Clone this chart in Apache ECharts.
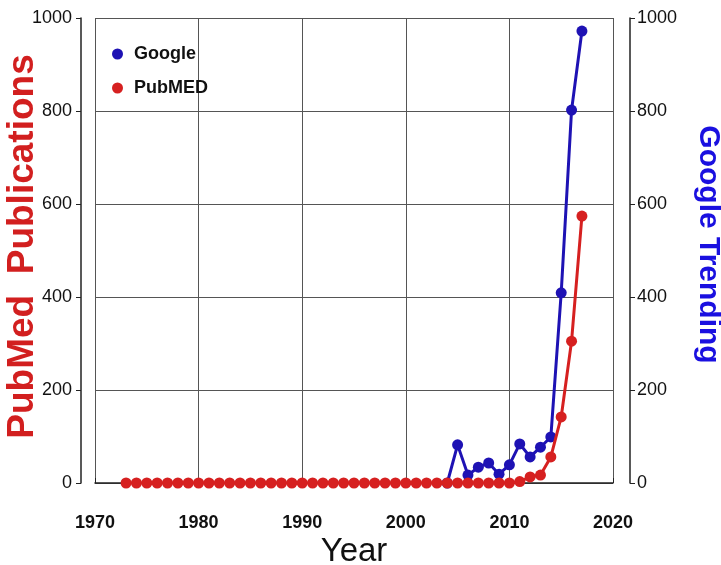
<!DOCTYPE html>
<html><head><meta charset="utf-8">
<script src="https://cdn.jsdelivr.net/npm/echarts@6/dist/echarts.min.js"></script>
<style>html,body{margin:0;padding:0;background:#fff}#c{width:721px;height:565px}</style>
</head><body><div id="c"></div>
<script>
const pubmedYears = [1973,1974,1975,1976,1977,1978,1979,1980,1981,1982,1983,1984,1985,1986,1987,1988,1989,1990,1991,1992,1993,1994,1995,1996,1997,1998,1999,2000,2001,2002,2003,2004,2005,2006,2007,2008,2009,2010,2011,2012,2013,2014,2015,2016,2017];
const pubmedValues = [0,0,0,0,0,0,0,0,0,0,0,0,0,0,0,0,0,0,0,0,0,0,0,0,0,0,0,0,0,0,0,0,0,0,0,0,0,0,3,13,17,56,142,305,574];
const googleYears = [2004,2005,2006,2007,2008,2009,2010,2011,2012,2013,2014,2015,2016,2017];
const googleValues = [0,82,17,34,43,19,39,84,56,77,99,409,802,972];
const xTicks = [1970,1980,1990,2000,2010,2020];
const yTicks = [0,200,400,600,800,1000];

const chart = echarts.init(document.getElementById('c'));
const font = 'Liberation Sans, Arial, sans-serif';
const grid = '#555';
const plain = v => String(v);
chart.setOption({
  backgroundColor: '#fff',
  animation: false,
  grid: {left: 95, right: 108, top: 18, bottom: 82, containLabel: false, outerBoundsMode: 'none'},
  legend: {
    orient: 'vertical', left: 107, top: 40, itemGap: 16,
    itemWidth: 15, itemHeight: 11,
    textStyle: {fontFamily: font, fontWeight: 'bold', fontSize: 18, color: '#111', padding: [0,0,0,4]},
    data: [{name: 'Google', icon: 'circle'}, {name: 'PubMED', icon: 'circle'}]
  },
  xAxis: {
    type: 'value', min: xTicks[0], max: xTicks[xTicks.length-1], interval: 10,
    offset: 16,
    name: 'Year', nameLocation: 'middle', nameGap: 36, nameMoveOverlap: false,
    nameTextStyle: {fontFamily: font, fontSize: 33, color: '#111'},
    axisLine: {lineStyle: {color: '#222', width: 1.5}},
    axisTick: {inside: true, length: 5, lineStyle: {color: '#222'}},
    axisLabel: {fontFamily: font, fontWeight: 'bold', fontSize: 18, color: '#111', margin: 15, formatter: plain},
    splitLine: {show: true, lineStyle: {color: grid, width: 1}}
  },
  yAxis: [{
    type: 'value', min: 0, max: 1000, interval: 200, position: 'left', offset: 14,
    name: 'PubMed  Publications', nameLocation: 'middle', nameGap: 40, nameRotate: 90, nameMoveOverlap: false,
    nameTextStyle: {fontFamily: font, fontWeight: 'bold', fontSize: 37, color: '#d21f1f', padding: [0,0,0,8]},
    axisLine: {show: true, lineStyle: {color: '#222', width: 1.5}},
    axisTick: {show: true, length: 5, lineStyle: {color: '#222'}},
    axisLabel: {fontFamily: font, fontSize: 18, color: '#111', margin: 9, formatter: plain},
    splitLine: {show: true, lineStyle: {color: grid, width: 1}}
  }, {
    type: 'value', min: 0, max: 1000, interval: 200, position: 'right', offset: 17,
    name: 'Google Trending', nameLocation: 'middle', nameGap: 63, nameRotate: -90, nameMoveOverlap: false,
    nameTextStyle: {fontFamily: font, fontWeight: 'bold', fontSize: 30, color: '#1a10e0', padding: [0,12,0,0]},
    axisLine: {show: true, lineStyle: {color: '#222', width: 1.5}},
    axisTick: {show: true, length: 5, lineStyle: {color: '#222'}},
    axisLabel: {fontFamily: font, fontSize: 18, color: '#111', margin: 7, formatter: plain},
    splitLine: {show: false}
  }],
  series: [{
    name: 'Google', type: 'line', yAxisIndex: 1,
    data: googleYears.map((y,i)=>[y, googleValues[i]]),
    symbol: 'circle', symbolSize: 11, color: '#1e12b4',
    lineStyle: {width: 3, color: '#1e12b4'}, itemStyle: {color: '#1e12b4'}, z: 2
  }, {
    name: 'PubMED', type: 'line', yAxisIndex: 0,
    data: pubmedYears.map((y,i)=>[y, pubmedValues[i]]),
    symbol: 'circle', symbolSize: 11, color: '#d62020',
    lineStyle: {width: 3, color: '#d62020'}, itemStyle: {color: '#d62020'}, z: 3
  }]
});
</script></body></html>
